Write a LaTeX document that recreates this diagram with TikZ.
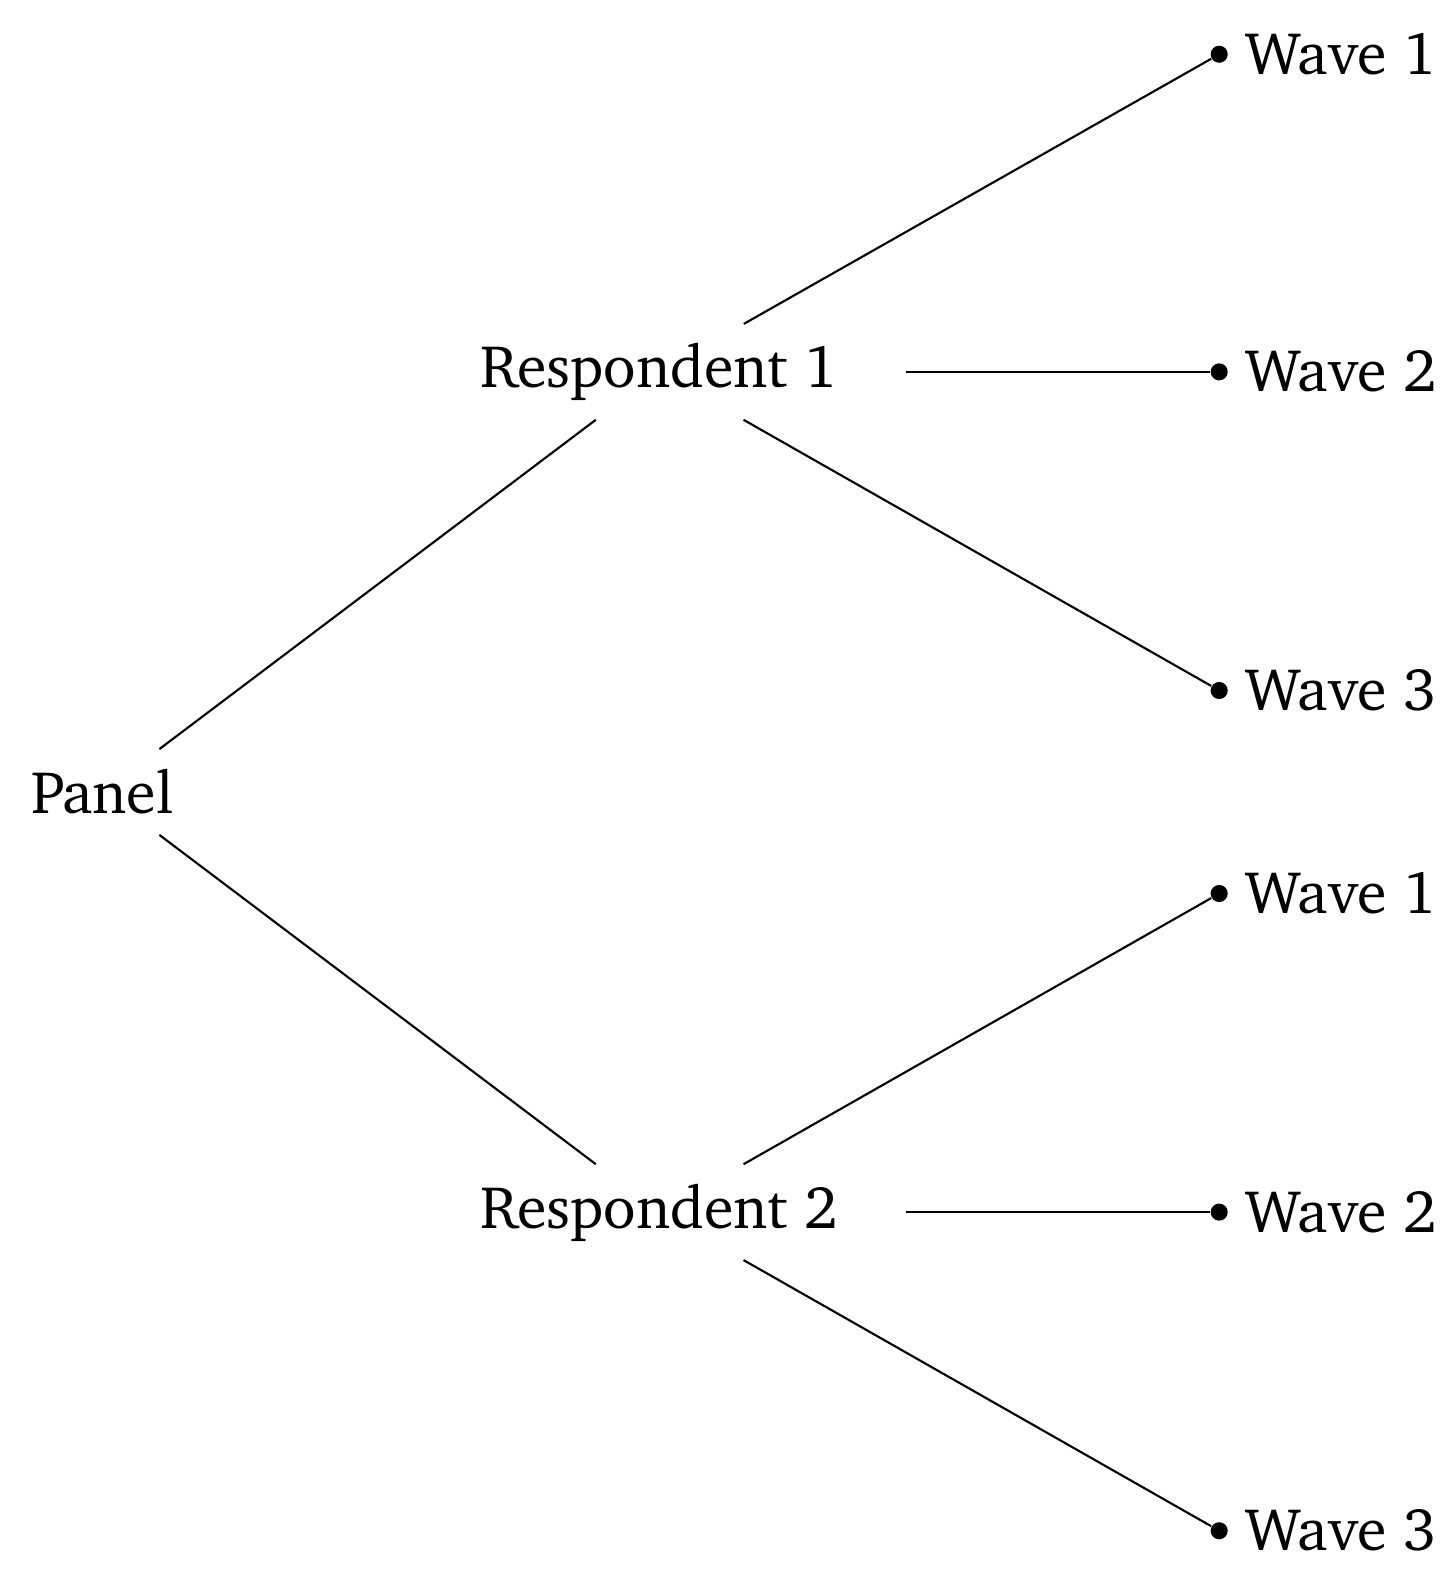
\documentclass[tikz,border=0pt]{standalone}
\usepackage[T1]{fontenc}
\usepackage{charter}
\usepackage{tikz}
\begin{document}
\begin{tikzpicture}[
        every node/.style={font=\fontsize{17}{20}\selectfont},
        resp/.style={minimum width=4.9cm, minimum height=0.94cm, inner sep=0pt},
        wave/.style={circle, fill=black, inner sep=0pt, minimum size=0.17cm, label={[label distance=0.05cm]right:#1}},
        link/.style={line width=0.6pt}
    ]
        \useasboundingbox (0, 0.07) rectangle (14.43, 15.75);
        
        % Root
        \node[minimum width=1.4cm, minimum height=0.84cm, inner sep=0pt] (panel) at (1.02, 7.87) {Panel};
        
        % Respondents
        \node[resp] (resp1) at (6.56, 12.05) {Respondent 1};
        \node[resp] (resp2) at (6.56, 3.69) {Respondent 2};
        
        % Waves of respondent 1
        \node[wave=Wave 1] (w11) at (12.13, 15.21) {};
        \node[wave=Wave 2] (w12) at (12.13, 12.05) {};
        \node[wave=Wave 3] (w13) at (12.13, 8.88) {};
        
        % Waves of respondent 2
        \node[wave=Wave 1] (w21) at (12.13, 6.86) {};
        \node[wave=Wave 2] (w22) at (12.13, 3.69) {};
        \node[wave=Wave 3] (w23) at (12.13, 0.52) {};
        
        % Edges
        \draw[link] (panel) -- (resp1);
        \draw[link] (panel) -- (resp2);
        \foreach \w in {1,2,3} {
            \draw[link] (resp1) -- (w1\w);
            \draw[link] (resp2) -- (w2\w);
        }
        
    \end{tikzpicture}
\end{document}
